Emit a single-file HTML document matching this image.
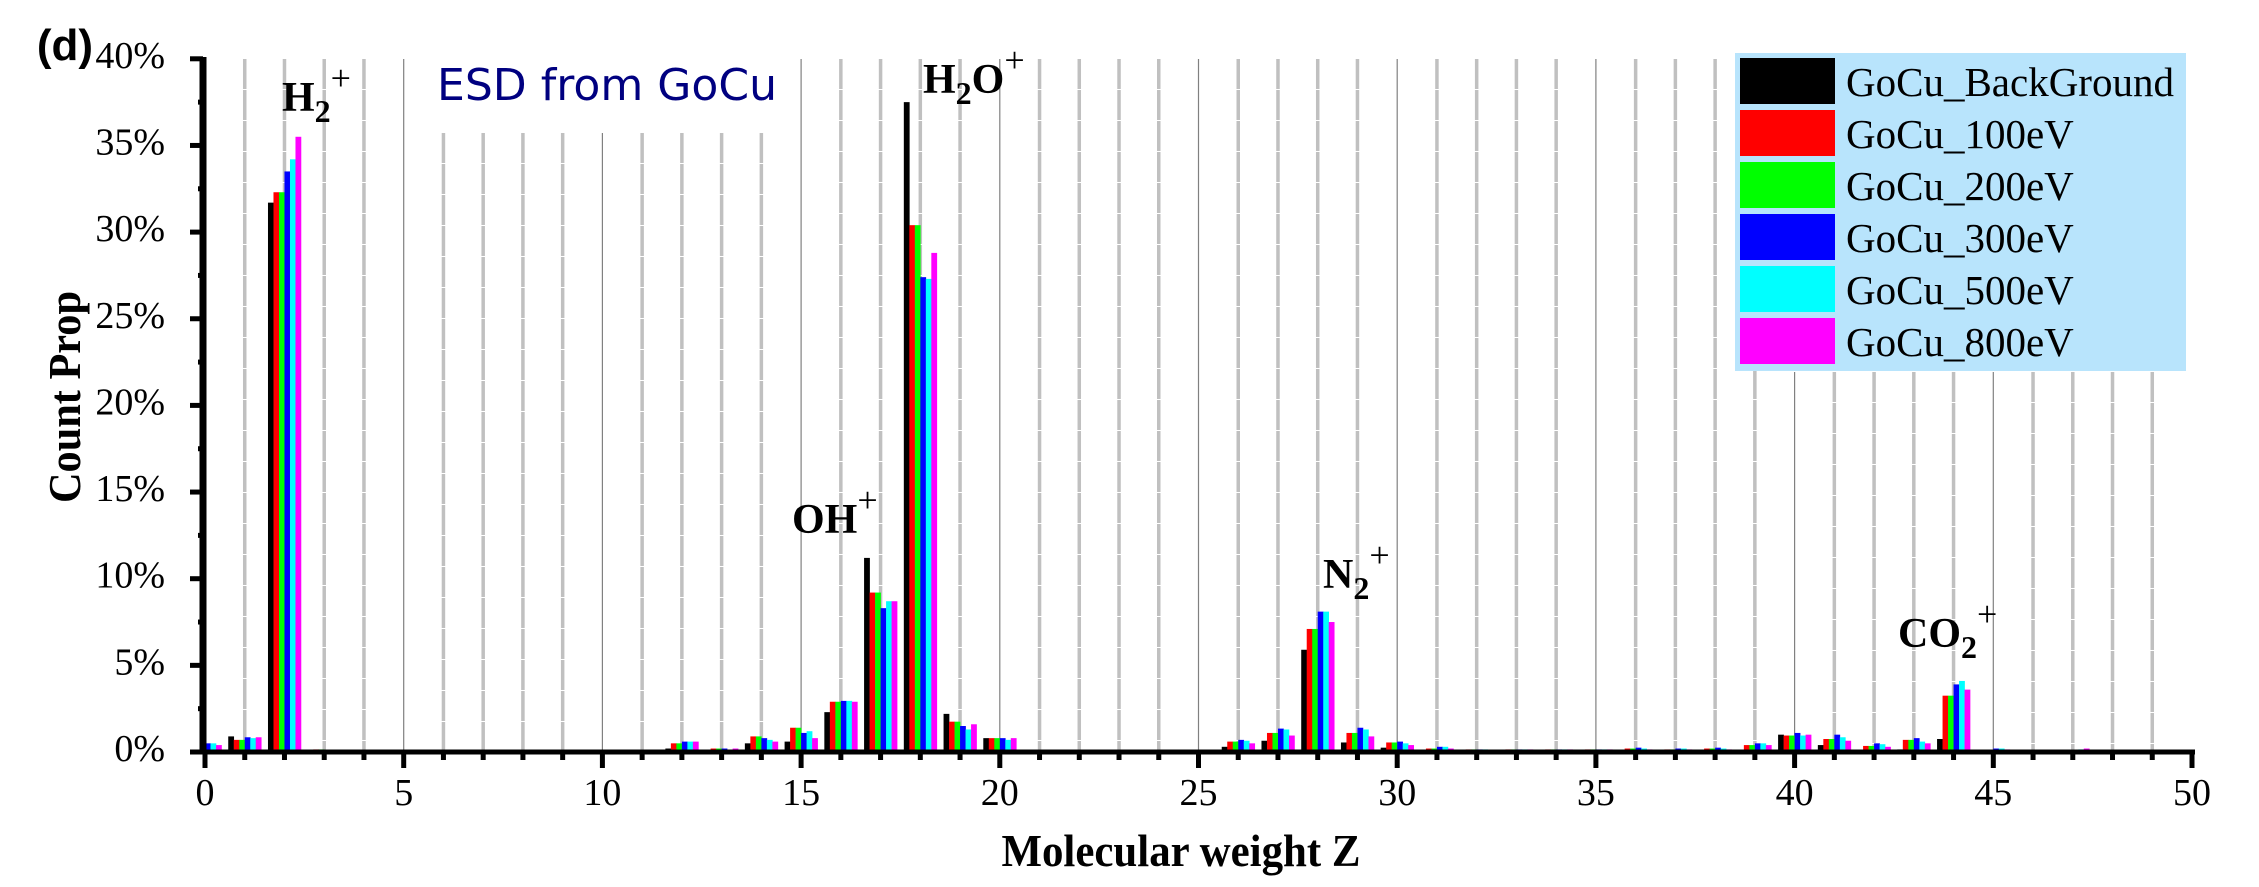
<!DOCTYPE html>
<html><head><meta charset="utf-8"><style>
html,body{margin:0;padding:0;background:#fff;}
svg{display:block;}
</style></head><body>
<svg id="s" width="2259" height="887" xmlns="http://www.w3.org/2000/svg">
<rect width="2259" height="887" fill="#fff"/>
<g id="grid"></g>
<g id="bars"></g>
<g id="axes"></g>
<rect x="1735" y="53" width="451" height="318" fill="#b8e4fc"/>
<g id="legend" font-family="Liberation Serif, serif" font-size="41"></g>
<text x="65" y="60" font-family="Liberation Sans, sans-serif" font-weight="bold" font-size="44" text-anchor="middle">(d)</text>
<text x="437" y="100" font-family="DejaVu Sans, sans-serif" font-size="44" fill="#000080" textLength="340" lengthAdjust="spacingAndGlyphs">ESD from GoCu</text>
<g font-family="Liberation Serif, serif" font-weight="bold" font-size="42">
<text x="282" y="111">H<tspan font-size="32" dy="11">2</tspan><tspan font-size="36" font-weight="normal" dy="-32">+</tspan></text>
<text x="923" y="93">H<tspan font-size="32" dy="11">2</tspan><tspan dy="-11">O</tspan><tspan font-size="36" font-weight="normal" dy="-21">+</tspan></text>
<text x="792" y="533">OH<tspan font-size="36" font-weight="normal" dy="-21">+</tspan></text>
<text x="1323" y="588">N<tspan font-size="32" dy="11">2</tspan><tspan font-size="36" font-weight="normal" dy="-32">+</tspan></text>
<text x="1898" y="647">CO<tspan font-size="32" dy="11">2</tspan><tspan font-size="36" font-weight="normal" dy="-32">+</tspan></text>
<text x="1181" y="866" font-size="46" text-anchor="middle" textLength="359" lengthAdjust="spacingAndGlyphs">Molecular weight Z</text>
<text transform="translate(80,397) rotate(-90)" font-size="46" text-anchor="middle" textLength="212" lengthAdjust="spacingAndGlyphs">Count Prop</text>
</g>
</svg>
<script>
(function(){
var NS="http://www.w3.org/2000/svg";
function el(p,t,a,txt){var e=document.createElementNS(NS,t);for(var k in a)e.setAttribute(k,a[k]);if(txt!==undefined)e.textContent=txt;document.getElementById(p).appendChild(e);return e;}
var x0=205,u=39.74,y0=752,py=17.33;
function X(z){return x0+z*u;}
for(var z=1;z<50;z++){
  var top=59; if(z>=6&&z<=14)top=133; if(z>=40)top=372;
  if(z%5==0) el("grid","line",{x1:X(z),x2:X(z),y1:top,y2:y0,stroke:"#808080","stroke-width":1.2});
  else el("grid","line",{x1:X(z),x2:X(z),y1:top,y2:y0,stroke:"#c0c0c0","stroke-width":3.5,"stroke-dasharray":"30,1"});
}
var cols=["#000","#f00","#0f0","#00f","#0ff","#f0f"];
var d={
0:[0,0,0,0.5,0.5,0.4],1:[0.9,0.7,0.7,0.85,0.8,0.85],2:[31.7,32.3,32.3,33.5,34.2,35.5],
3:[0.1,0.15,0.15,0.1,0.08,0.08],4:[0,0.1,0.1,0,0,0.1],5:[0,0,0,0.1,0,0.1],7:[0,0,0,0.08,0,0],8:[0,0,0,0.08,0.08,0],
12:[0.2,0.5,0.5,0.6,0.6,0.6],13:[0,0.2,0.2,0.2,0.1,0.2],14:[0.5,0.9,0.9,0.8,0.7,0.6],
15:[0.6,1.4,1.4,1.1,1.2,0.8],16:[2.3,2.9,2.9,2.95,2.95,2.9],17:[11.2,9.2,9.2,8.3,8.7,8.7],
18:[37.5,30.4,30.4,27.4,27.3,28.8],19:[2.2,1.75,1.75,1.5,1.3,1.6],20:[0.8,0.8,0.8,0.8,0.7,0.8],
21:[0,0,0,0.08,0,0],22:[0,0.12,0.12,0.12,0.12,0.12],23:[0,0,0,0,0,0.08],24:[0,0.12,0.12,0.06,0.06,0.06],25:[0,0.12,0.12,0.12,0.12,0.12],
26:[0.3,0.6,0.6,0.7,0.65,0.5],27:[0.65,1.1,1.1,1.35,1.3,0.95],28:[5.9,7.1,7.1,8.1,8.1,7.5],
29:[0.55,1.1,1.1,1.4,1.3,0.9],30:[0.25,0.55,0.55,0.6,0.5,0.4],31:[0.1,0.2,0.2,0.3,0.3,0.2],
32:[0.05,0.15,0.15,0.15,0.15,0.1],33:[0.05,0.15,0.15,0.15,0.15,0.15],34:[0.05,0.15,0.15,0.15,0.15,0.15],35:[0.05,0.15,0.15,0.15,0.15,0.15],
36:[0.05,0.2,0.2,0.25,0.2,0.15],37:[0.05,0.15,0.15,0.2,0.2,0.15],38:[0.05,0.2,0.2,0.25,0.2,0.15],
39:[0.1,0.4,0.4,0.5,0.5,0.4],40:[1.0,0.95,0.95,1.1,0.95,1.0],41:[0.4,0.75,0.75,1.0,0.85,0.65],
42:[0.1,0.35,0.35,0.5,0.45,0.3],43:[0.15,0.7,0.7,0.8,0.6,0.5],44:[0.75,3.25,3.25,3.9,4.1,3.6],
45:[0,0.12,0.12,0.2,0.2,0.15],46:[0,0.12,0.12,0.12,0.12,0.12],47:[0,0.12,0.12,0.12,0.15,0.2],48:[0,0.08,0.08,0.08,0.08,0.08],49:[0,0,0,0.08,0.08,0.08]};
var bw=5.5;
for(var k in d){var v=d[k];var s=X(+k)-16.5;
 for(var i=0;i<6;i++){if(v[i]<=0)continue;var h=v[i]*py;el("bars","rect",{x:s+i*bw,y:y0-h,width:bw+0.3,height:h,fill:cols[i]});}}
el("axes","line",{x1:203,x2:203,y1:57,y2:754,stroke:"#000","stroke-width":7});
el("axes","line",{x1:190,x2:2195,y1:752,y2:752,stroke:"#000","stroke-width":5});
for(var p=0;p<=40;p+=2.5){var y=y0-p*py;var maj=(p%5==0);
 el("axes","line",{x1:maj?190:198,x2:203,y1:y,y2:y,stroke:"#000","stroke-width":5});
 if(maj) el("axes","text",{x:165,y:y+9,"text-anchor":"end","font-family":"Liberation Serif, serif","font-size":38},p+"%");}
for(var z=0;z<=50;z++){var maj=(z%5==0);
 el("axes","line",{x1:X(z),x2:X(z),y1:752,y2:maj?768:760,stroke:"#000","stroke-width":5});
 if(maj) el("axes","text",{x:X(z),y:805,"text-anchor":"middle","font-family":"Liberation Serif, serif","font-size":38},z);}
var names=["GoCu_BackGround","GoCu_100eV","GoCu_200eV","GoCu_300eV","GoCu_500eV","GoCu_800eV"];
for(var i=0;i<6;i++){var y=58+i*52;
 el("legend","rect",{x:1740,y:y,width:95,height:46,fill:cols[i]});
 el("legend","text",{x:1846,y:y+38},names[i]);}
})();
</script>
</body></html>
